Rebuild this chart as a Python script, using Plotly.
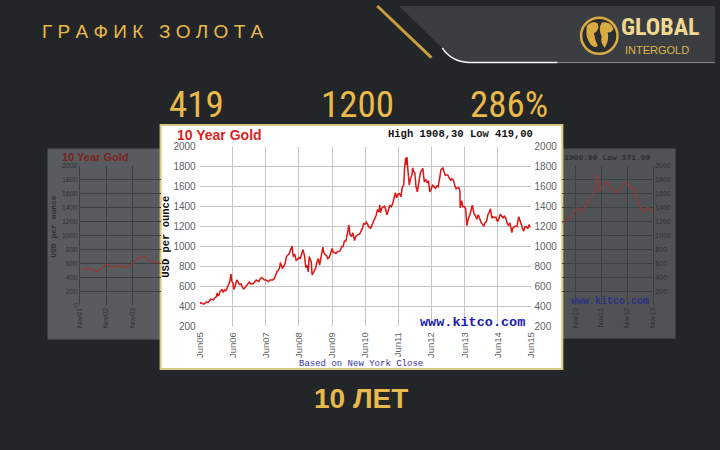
import plotly.graph_objects as go

W, H = 720, 450


def px(x):
    return x / W


def py(y):
    return 1 - y / H


# ---------------- data ----------------
gold_dates = [
    "2005-06-01", "2005-06-15", "2005-07-01", "2005-07-15", "2005-08-01", "2005-08-15", "2005-09-01", "2005-09-15",
    "2005-10-01", "2005-10-15", "2005-11-01", "2005-11-15", "2005-12-01", "2005-12-12", "2005-12-20",
    "2006-01-01", "2006-01-15", "2006-02-01", "2006-02-15", "2006-03-01", "2006-03-15", "2006-04-01", "2006-04-15",
    "2006-05-01", "2006-05-12", "2006-05-22", "2006-06-01", "2006-06-14", "2006-07-01", "2006-07-15", "2006-08-01",
    "2006-08-15", "2006-09-01", "2006-09-15", "2006-10-01", "2006-10-15", "2006-11-01", "2006-11-15", "2006-12-01",
    "2006-12-15",
    "2007-01-01", "2007-01-15", "2007-02-01", "2007-02-15", "2007-03-01", "2007-03-15", "2007-04-01", "2007-04-15",
    "2007-05-01", "2007-05-15", "2007-06-01", "2007-06-15", "2007-07-01", "2007-07-15", "2007-08-01", "2007-08-15",
    "2007-09-01", "2007-09-15", "2007-10-01", "2007-10-15", "2007-11-01", "2007-11-08", "2007-11-20", "2007-12-01",
    "2007-12-15",
    "2008-01-01", "2008-01-15", "2008-02-01", "2008-02-15", "2008-03-01", "2008-03-17", "2008-03-25", "2008-04-01",
    "2008-04-15", "2008-05-01", "2008-05-15", "2008-06-01", "2008-06-15", "2008-07-01", "2008-07-15", "2008-08-01",
    "2008-08-15", "2008-09-01", "2008-09-11", "2008-09-22", "2008-10-01", "2008-10-15", "2008-10-24", "2008-11-01",
    "2008-11-15", "2008-12-01", "2008-12-15",
    "2009-01-01", "2009-01-15", "2009-02-01", "2009-02-20", "2009-03-01", "2009-03-15", "2009-04-01", "2009-04-15",
    "2009-05-01", "2009-05-15", "2009-06-01", "2009-06-15", "2009-07-01", "2009-07-15", "2009-08-01", "2009-08-15",
    "2009-09-01", "2009-09-15", "2009-10-01", "2009-10-15", "2009-11-01", "2009-11-15", "2009-12-03", "2009-12-15",
    "2010-01-01", "2010-01-15", "2010-02-05", "2010-02-15", "2010-03-01", "2010-03-15", "2010-04-01", "2010-04-15",
    "2010-05-01", "2010-05-15", "2010-06-01", "2010-06-15", "2010-07-01", "2010-07-15", "2010-08-01", "2010-08-15",
    "2010-09-01", "2010-09-15", "2010-10-01", "2010-10-15", "2010-11-01", "2010-11-09", "2010-11-17", "2010-12-01",
    "2010-12-15",
    "2011-01-01", "2011-01-15", "2011-01-28", "2011-02-15", "2011-03-01", "2011-03-15", "2011-04-01", "2011-04-15",
    "2011-05-01", "2011-05-15", "2011-06-01", "2011-06-15", "2011-07-01", "2011-07-15", "2011-08-01", "2011-08-10",
    "2011-08-22", "2011-09-01", "2011-09-06", "2011-09-15", "2011-09-26", "2011-10-01", "2011-10-15", "2011-11-01",
    "2011-11-08", "2011-11-15", "2011-12-01", "2011-12-15", "2011-12-29",
    "2012-01-01", "2012-01-15", "2012-02-01", "2012-02-28", "2012-03-15", "2012-04-01", "2012-04-15", "2012-05-01",
    "2012-05-15", "2012-06-01", "2012-06-15", "2012-07-01", "2012-07-15", "2012-08-01", "2012-08-15", "2012-09-01",
    "2012-09-15", "2012-10-05", "2012-10-15", "2012-11-01", "2012-11-15", "2012-12-01", "2012-12-15",
    "2013-01-01", "2013-01-15", "2013-02-01", "2013-02-15", "2013-03-01", "2013-03-15", "2013-04-01", "2013-04-12",
    "2013-04-15", "2013-05-01", "2013-05-15", "2013-06-01", "2013-06-15", "2013-06-28", "2013-07-15", "2013-08-01",
    "2013-08-27", "2013-09-15", "2013-10-01", "2013-10-15", "2013-11-01", "2013-11-15", "2013-12-01", "2013-12-31",
    "2014-01-15", "2014-02-01", "2014-02-15", "2014-03-01", "2014-03-15", "2014-04-01", "2014-04-15", "2014-05-01",
    "2014-05-15", "2014-06-01", "2014-06-15", "2014-07-01", "2014-07-15", "2014-08-01", "2014-08-15", "2014-09-01",
    "2014-09-15", "2014-10-01", "2014-10-15", "2014-11-07", "2014-11-15", "2014-12-01", "2014-12-15",
    "2015-01-01", "2015-01-22", "2015-02-01", "2015-02-15", "2015-03-01", "2015-03-15", "2015-04-01", "2015-04-15",
    "2015-05-01", "2015-05-15", "2015-06-01",
]
gold_prices = [
    425, 438, 428, 422, 432, 445, 437, 458, 472, 470, 465, 485, 495, 535, 505,
    517, 555, 568, 545, 565, 555, 585, 610, 655, 725, 650, 640, 570, 615, 665, 640,
    620, 625, 590, 575, 590, 615, 625, 645, 625,
    632, 630, 650, 665, 655, 650, 675, 690, 680, 665, 665, 655, 650, 665, 665, 665,
    675, 715, 745, 760, 790, 840, 800, 785, 800,
    835, 900, 920, 930, 970, 1005, 935, 900, 925, 860, 870, 890, 880, 935, 970, 910,
    790, 810, 745, 900, 880, 840, 715, 730, 740, 780, 840,
    880, 815, 900, 995, 940, 920, 910, 880, 890, 930, 980, 940, 940, 930, 950, 950,
    960, 1000, 1000, 1055, 1055, 1120, 1215, 1125,
    1100, 1140, 1060, 1100, 1115, 1120, 1125, 1155, 1180, 1230, 1225, 1245, 1210, 1195, 1185, 1215,
    1250, 1270, 1315, 1370, 1350, 1420, 1340, 1385, 1395,
    1405, 1370, 1320, 1375, 1415, 1400, 1430, 1480, 1540, 1490, 1530, 1530, 1500, 1590, 1620, 1780,
    1890, 1820, 1900, 1780, 1620, 1620, 1680, 1720, 1790, 1760, 1740, 1600, 1550,
    1570, 1640, 1740, 1785, 1650, 1670, 1640, 1660, 1550, 1580, 1620, 1600, 1585, 1610, 1600, 1690,
    1770, 1790, 1750, 1715, 1720, 1715, 1690,
    1665, 1680, 1665, 1610, 1580, 1590, 1590, 1560, 1390, 1460, 1400, 1400, 1380, 1210, 1285, 1320,
    1415, 1330, 1310, 1275, 1320, 1285, 1245, 1205,
    1240, 1255, 1320, 1340, 1380, 1285, 1300, 1290, 1295, 1250, 1275, 1325, 1305, 1290, 1305, 1285,
    1235, 1210, 1240, 1140, 1185, 1200, 1205,
    1200, 1300, 1270, 1230, 1210, 1155, 1200, 1200, 1180, 1220, 1190,
]

x_tick_dates = ["2005-06-01", "2006-06-01", "2007-06-01", "2008-06-01", "2009-06-01", "2010-06-01",
                "2011-06-01", "2012-06-01", "2013-06-01", "2014-06-01", "2015-06-01"]
x_tick_labels = ["Jun05", "Jun06", "Jun07", "Jun08", "Jun09", "Jun10",
                 "Jun11", "Jun12", "Jun13", "Jun14", "Jun15"]
y_tick_values = [200, 400, 600, 800, 1000, 1200, 1400, 1600, 1800, 2000]
y_tick_labels = ["200", "400", "600", "800", "1000", "1200", "1400", "1600", "1800", "2000"]

# faded background charts (left and right of the main chart)
bg_left_dates = ["2001-12-15", "2002-03-15", "2002-06-15", "2002-08-25", "2002-11-01", "2003-02-01", "2003-05-01",
                 "2003-08-01", "2003-10-10", "2003-12-20", "2004-02-25", "2004-04-10", "2004-06-15", "2004-08-25",
                 "2004-10-20", "2004-11-28"]
bg_left_values = [512, 530, 489, 522, 582, 550, 568, 545, 568, 652, 689, 712, 642, 628, 614, 600]
bg_left_tick_dates = ["2001-11-01", "2002-11-01", "2003-11-01"]
bg_left_tick_labels = ["Nov01", "Nov02", "Nov03"]

bg_right_dates = ["2010-05-01", "2010-06-01", "2010-09-01", "2010-11-28", "2011-02-01", "2011-05-26", "2011-08-01",
                  "2011-09-01", "2011-10-15", "2011-12-01", "2012-01-20", "2012-04-01", "2012-07-01", "2012-09-25",
                  "2012-12-01", "2013-02-10", "2013-04-05", "2013-06-15", "2013-08-15", "2013-10-05", "2013-11-01"]
bg_right_values = [1180, 1212, 1260, 1398, 1340, 1519, 1640, 1886, 1630, 1720, 1770, 1660, 1607, 1770,
                   1700, 1677, 1467, 1328, 1400, 1380, 1300]
bg_right_tick_dates = ["2010-11-01", "2011-11-01", "2012-11-01", "2013-11-01"]
bg_right_tick_labels = ["Nov10", "Nov11", "Nov12", "Nov13"]
bg_y_values = [0, 200, 400, 600, 800, 1000, 1200, 1400, 1600, 1800, 2000]
bg_y_labels = ["0", "200", "400", "600", "800", "1000", "1200", "1400", "1600", "1800", "2000"]

# ---------------- colours ----------------
BG = "#222628"
GOLD = "#e9b94c"
RED = "#df1515"


def path(cmds):
    out = []
    for c in cmds:
        op = c[0]
        if op == "Z":
            out.append("Z")
            continue
        nums = c[1:]
        pts = []
        for i in range(0, len(nums), 2):
            pts.append(f"{px(nums[i]):.5f},{py(nums[i + 1]):.5f}")
        out.append(op + " " + " ".join(pts))
    return " ".join(out)


shapes = []
# top-right lighter panel
shapes.append(dict(type="path", xref="paper", yref="paper", layer="below",
                   path=path([("M", 399, 0), ("L", 720, 0), ("L", 720, 58), ("L", 468, 58),
                              ("Q", 456, 58, 449, 49), ("Z",)]),
                   fillcolor="#3b3e41", line=dict(width=0)))
shapes.append(dict(type="path", xref="paper", yref="paper", layer="below",
                   path=path([("M", 443, 43), ("Q", 452, 57, 470, 58), ("L", 560, 58)]),
                   line=dict(color="#f4f4f4", width=1.5)))
shapes.append(dict(type="path", xref="paper", yref="paper", layer="below",
                   path=path([("M", 560, 58), ("L", 720, 58)]),
                   line=dict(color="#8a8d90", width=1)))
# gold diagonal stripe
shapes.append(dict(type="path", xref="paper", yref="paper", layer="below",
                   path=path([("M", 377, 0), ("L", 432, 53)]),
                   line=dict(color="#c99f3c", width=3)))
# faded side panels
shapes.append(dict(type="rect", xref="paper", yref="paper", layer="below",
                   x0=px(42), x1=px(162), y0=py(342), y1=py(146),
                   fillcolor="#595c5e", line=dict(color="#3a3d3f", width=1)))
shapes.append(dict(type="rect", xref="paper", yref="paper", layer="below",
                   x0=px(558), x1=px(680), y0=py(341), y1=py(146),
                   fillcolor="#505355", line=dict(color="#3a3d3f", width=1)))
# main chart frame
shapes.append(dict(type="rect", xref="paper", yref="paper", layer="below",
                   x0=px(157), x1=px(565), y0=py(372), y1=py(122),
                   fillcolor="#ffffff", line=dict(color="#d9c683", width=2)))
# logo globe
shapes.append(dict(type="circle", xref="paper", yref="paper", layer="above",
                   x0=px(584), x1=px(621), y0=py(49), y1=py(12),
                   fillcolor="#2b2e31", line=dict(color="#dcaa45", width=2.5)))
shapes.append(dict(type="path", xref="paper", yref="paper", layer="above",
                   path=path([("M", 590, 20), ("Q", 596, 14, 601, 18), ("Q", 603, 25, 597, 28),
                              ("Q", 598, 35, 601, 41), ("Q", 596, 44, 592, 37), ("Q", 588, 30, 590, 20), ("Z",)]),
                   fillcolor="#dcaa45", line=dict(width=0)))
shapes.append(dict(type="path", xref="paper", yref="paper", layer="above",
                   path=path([("M", 605, 17), ("Q", 613, 15, 617, 23), ("Q", 615, 28, 611, 27),
                              ("Q", 613, 35, 608, 43), ("Q", 603, 37, 605, 31), ("Q", 601, 24, 605, 17), ("Z",)]),
                   fillcolor="#dcaa45", line=dict(width=0)))

fig = go.Figure()

# background faded charts
fig.add_trace(go.Scatter(x=bg_left_dates, y=bg_left_values, xaxis="x3", yaxis="y3", mode="lines",
                         line=dict(color="#953838", width=1.2), hoverinfo="skip", showlegend=False))
fig.add_trace(go.Scatter(x=bg_right_dates, y=bg_right_values, xaxis="x4", yaxis="y4", mode="lines",
                         line=dict(color="#953838", width=1.2), hoverinfo="skip", showlegend=False))

# main chart
fig.add_trace(go.Scatter(x=gold_dates, y=gold_prices, mode="lines",
                         line=dict(color=RED, width=1.5), hoverinfo="skip", showlegend=False))
fig.add_trace(go.Scatter(x=gold_dates, y=gold_prices, yaxis="y2", mode="lines",
                         line=dict(color="rgba(0,0,0,0)", width=0), hoverinfo="skip", showlegend=False))

tick_font = dict(family="Liberation Sans, Arial, sans-serif", size=10, color="#5f5f5f")
bg_tick_font = dict(family="Liberation Sans, Arial, sans-serif", size=7, color="#2e3032")
GRID = "#c5c5c5"
BGGRID = "#3c3f41"

fig.update_layout(
    width=W, height=H,
    margin=dict(l=0, r=0, t=0, b=0),
    paper_bgcolor=BG,
    plot_bgcolor="rgba(0,0,0,0)",
    shapes=shapes,
    xaxis=dict(domain=[px(196.7), px(532.7)], anchor="y", type="date",
               range=["2005-06-01", "2015-06-01"], tickmode="array",
               tickvals=x_tick_dates, ticktext=x_tick_labels, tickangle=-90,
               showgrid=True, gridcolor=GRID, gridwidth=1, zeroline=False,
               showline=False, ticks="", tickfont=dict(tick_font, size=9.5), ticklabelstandoff=3),
    yaxis=dict(domain=[py(328.3), py(144.5)], anchor="x", range=[200, 2000],
               tickmode="array", tickvals=y_tick_values, ticktext=y_tick_labels,
               showgrid=True, gridcolor=GRID, gridwidth=1, zeroline=False,
               showline=False, ticks="", tickfont=tick_font, ticklabelstandoff=3),
    yaxis2=dict(overlaying="y", side="right", anchor="x", range=[200, 2000],
                tickmode="array", tickvals=y_tick_values, ticktext=y_tick_labels,
                showgrid=False, zeroline=False, showline=False, ticks="",
                tickfont=tick_font, ticklabelstandoff=3),
    xaxis3=dict(domain=[px(75), px(157)], anchor="y3", type="date",
                range=["2001-11-01", "2004-11-28"], tickmode="array",
                tickvals=bg_left_tick_dates, ticktext=bg_left_tick_labels, tickangle=-90,
                showgrid=True, gridcolor=BGGRID, zeroline=False, showline=False, ticks="",
                tickfont=bg_tick_font),
    yaxis3=dict(domain=[py(307), py(163.5)], anchor="x3", range=[0, 2000],
                tickmode="array", tickvals=bg_y_values, ticktext=bg_y_labels,
                showgrid=True, gridcolor=BGGRID, zeroline=False, showline=True,
                linecolor=BGGRID, ticks="", tickfont=bg_tick_font),
    xaxis4=dict(domain=[px(565), px(657)], anchor="y4", type="date",
                range=["2010-05-01", "2013-11-01"], tickmode="array",
                tickvals=bg_right_tick_dates, ticktext=bg_right_tick_labels, tickangle=-90,
                showgrid=True, gridcolor=BGGRID, zeroline=False, showline=False, ticks="",
                tickfont=bg_tick_font),
    yaxis4=dict(domain=[py(307), py(163.5)], anchor="x4", side="right", range=[0, 2000],
                tickmode="array", tickvals=bg_y_values[1:], ticktext=bg_y_labels[1:],
                showgrid=True, gridcolor=BGGRID, zeroline=False, showline=True,
                linecolor=BGGRID, ticks="", tickfont=bg_tick_font),
)

MONO = "Liberation Mono, DejaVu Sans Mono, monospace"
SANS = "Liberation Sans, Arial, sans-serif"
NARROW = "Liberation Sans Narrow, Arial Narrow, Roboto Condensed, Liberation Sans, sans-serif"


def ann(x, y, text, font, xanchor="center", yanchor="middle", textangle=0):
    return dict(xref="paper", yref="paper", x=px(x), y=py(y), text=text, showarrow=False,
                xanchor=xanchor, yanchor=yanchor, font=font, textangle=textangle)


annotations = [
    # slide texts
    ann(35, 26, "Г Р А Ф И К   З О Л О Т А", dict(family=SANS, size=19, color=GOLD), xanchor="left"),
    ann(193, 101, "419", dict(family=NARROW, size=37, color=GOLD)),
    ann(357, 101, "1200", dict(family=NARROW, size=37, color=GOLD)),
    ann(511, 101, "286%", dict(family=NARROW, size=37, color=GOLD)),
    ann(360, 402, "<b>10 ЛЕТ</b>", dict(family=SANS, size=28, color=GOLD)),
    ann(623, 21.5, "<b>GLOBAL</b>", dict(family=NARROW, size=24, color="#f1d891"), xanchor="left"),
    ann(627, 45, "INTERGOLD", dict(family=SANS, size=11, color="#dfb24f"), xanchor="left"),
    # main chart texts
    ann(172, 132.5, "<b>10 Year Gold</b>", dict(family=SANS, size=14, color="#d91f1f"), xanchor="left"),
    ann(537, 131.5, "<b>High 1908,30 Low 419,00</b>", dict(family=MONO, size=10.5, color="#111111"),
        xanchor="right"),
    ann(163, 237, "<b>USD per ounce</b>", dict(family=MONO, size=10.5, color="#111111"), textangle=-90),
    ann(529, 324, "<b>www.kitco.com</b>", dict(family=MONO, size=13.5, color="#1b1bb0"), xanchor="right"),
    ann(360, 366.5, "Based on New York Close", dict(family=MONO, size=9, color="#3535a8")),
    # faded chart texts
    ann(55, 155, "<b>10 Year Gold</b>", dict(family=SANS, size=11, color="#7a2424"), xanchor="left"),
    ann(48, 226, "<b>USD per ounce</b>", dict(family=MONO, size=8, color="#2e3032"), textangle=-90),
    ann(657, 155, "<b>1900.00 Low 371.00</b>", dict(family=MONO, size=8, color="#2a2c2e"), xanchor="right"),
    ann(655, 303, "<b>www.kitco.com</b>", dict(family=MONO, size=10, color="#2c3180"), xanchor="right"),
]
fig.update_layout(annotations=annotations)

fig.write_html(
    "out.html",
    config={"responsive": False, "displayModeBar": False},
    post_script="document.body.style.margin='0';document.body.style.padding='0';"
                "document.body.style.overflow='hidden';document.body.style.background='#222628';",
)
